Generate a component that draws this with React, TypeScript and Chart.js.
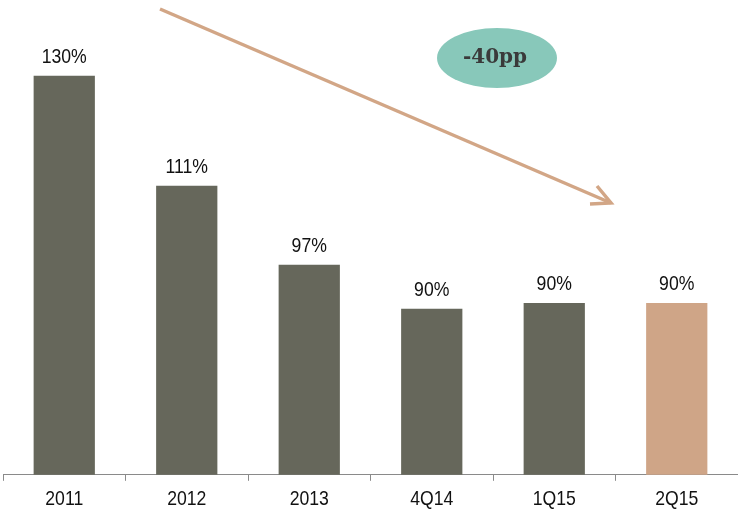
import React, { useEffect, useRef } from "react";
import { Chart, registerables } from "chart.js";

Chart.register(...registerables);

const categories = ["2011", "2012", "2013", "4Q14", "1Q15", "2Q15"];
const values = [130, 111, 97.3, 89.7, 90.7, 90.7];
const valueLabels = ["130%", "111%", "97%", "90%", "90%", "90%"];
const barColors = ["#66675b", "#66675b", "#66675b", "#66675b", "#66675b", "#cfa587"];
const badgeText = "-40pp";

const FONT = "'Liberation Sans', Arial, sans-serif";
const SX = 0.84;

function narrowText(ctx: CanvasRenderingContext2D, text: string, x: number, y: number) {
  ctx.save();
  ctx.translate(x, y);
  ctx.scale(SX, 1);
  ctx.fillText(text, 0, 0);
  ctx.restore();
}

const overlayPlugin = {
  id: "overlay",
  afterDatasetsDraw(chart: any) {
    const ctx = chart.ctx;
    const meta = chart.getDatasetMeta(0);
    const xScale = chart.scales.x;
    ctx.save();
    ctx.font = "21px " + FONT;
    ctx.fillStyle = "#111111";
    ctx.textAlign = "center";
    ctx.textBaseline = "alphabetic";
    meta.data.forEach((bar: any, i: number) => {
      narrowText(ctx, valueLabels[i], bar.x, bar.y - 13);
    });
    categories.forEach((c, i) => {
      narrowText(ctx, c, xScale.getPixelForValue(i), chart.chartArea.bottom + 30.5);
    });

    // trend arrow
    ctx.strokeStyle = "#d2a686";
    ctx.lineWidth = 3.5;
    ctx.lineCap = "butt";
    ctx.beginPath();
    ctx.moveTo(160, 9);
    ctx.lineTo(611, 203);
    ctx.stroke();
    ctx.beginPath();
    ctx.moveTo(597, 186);
    ctx.lineTo(611, 203);
    ctx.lineTo(590, 204);
    ctx.stroke();

    // badge
    ctx.fillStyle = "#88c8ba";
    ctx.beginPath();
    ctx.ellipse(497, 58, 60, 30, 0, 0, Math.PI * 2);
    ctx.fill();
    ctx.fillStyle = "#3a3a3a";
    ctx.font = "bold 20px 'DejaVu Serif', serif";
    ctx.textAlign = "center";
    ctx.textBaseline = "middle";
    ctx.fillText(badgeText, 495, 58);
    ctx.restore();
  },
};

export default function App() {
  const ref = useRef<HTMLCanvasElement | null>(null);
  useEffect(() => {
    if (!ref.current) return;
    const chart = new Chart(ref.current, {
      type: "bar",
      data: {
        labels: categories,
        datasets: [
          {
            data: values,
            backgroundColor: barColors,
            borderWidth: 0,
            categoryPercentage: 1,
            barPercentage: 0.5,
          },
        ],
      },
      options: {
        animation: false,
        responsive: true,
        maintainAspectRatio: false,
        layout: { padding: { left: 3, right: 0, top: 0, bottom: 2 } },
        plugins: { legend: { display: false }, tooltip: { enabled: false } },
        scales: {
          x: {
            grid: {
              offset: true,
              drawOnChartArea: false,
              drawTicks: true,
              tickLength: 6,
              color: "#8a8a8a",
            },
            border: { display: true, color: "#8a8a8a", width: 1 },
            ticks: {
              color: "rgba(0,0,0,0)",
              font: { family: FONT, size: 21 },
              padding: 4,
            },
          },
          y: { display: false, min: 61, max: 143.1 },
        },
      },
      plugins: [overlayPlugin],
    });
    return () => chart.destroy();
  }, []);
  return (
    <div style={{ position: "fixed", left: 0, top: 0, width: 738, height: 516 }}>
      <canvas ref={ref} />
    </div>
  );
}
